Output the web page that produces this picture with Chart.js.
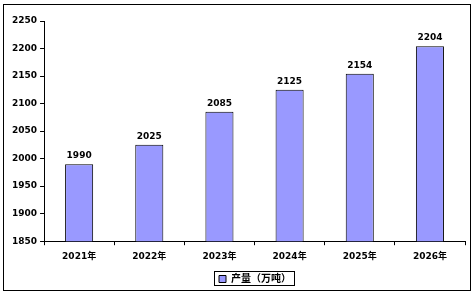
<!DOCTYPE html>
<html>
<head>
<meta charset="utf-8">
<script src="https://cdn.jsdelivr.net/npm/chart.js@4.4.1/dist/chart.umd.min.js"></script>
<style>
  html, body { margin: 0; padding: 0; background: #fff; }
  #wrap { width: 474px; height: 295px; position: relative; }
</style>
</head>
<body>
<div id="wrap"><canvas id="c"></canvas></div>
<script>
// data
const years = ['2021年', '2022年', '2023年', '2024年', '2025年', '2026年'];
const output = [1990, 2025, 2085, 2125, 2154, 2204];
const seriesName = '产量（万吨）';
const yMin = 1850, yMax = 2250, yStep = 50;

const FONT = '"DejaVu Sans", Verdana, "Noto Sans CJK SC", sans-serif';

// outer frame + legend frame + value labels
const extras = {
    id: 'extras',
    afterLayout(chart) {
        // centre the legend under the plot area rather than the canvas
        const lg = chart.legend;
        if (!lg) return;
        const dx = Math.round((chart.chartArea.left + chart.chartArea.right) / 2 - (lg.left + lg.right) / 2);
        lg.left += dx;
        lg.right += dx;
        (lg.legendHitBoxes || []).forEach(hb => { hb.left += dx; });
    },
    afterDatasetsDraw(chart) {
        const ctx = chart.ctx;
        const meta = chart.getDatasetMeta(0);
        ctx.save();
        ctx.fillStyle = '#000';
        ctx.font = 'bold 9px ' + FONT;
        ctx.textAlign = 'center';
        ctx.textBaseline = 'bottom';
        meta.data.forEach((bar, i) => {
            ctx.fillText(String(output[i]), bar.x, bar.y - 4);
        });
        ctx.restore();
    },
    afterDraw(chart) {
        const ctx = chart.ctx;
        ctx.save();
        ctx.strokeStyle = '#000';
        ctx.lineWidth = 1;
        ctx.strokeRect(3.5, 4.5, 467, 286);
        const lg = chart.legend;
        if (lg && lg.legendHitBoxes && lg.legendHitBoxes.length) {
            const hb = lg.legendHitBoxes[0];
            ctx.strokeRect(Math.round(hb.left) - 4.5, Math.round(hb.top) - 2.5,
                Math.round(hb.width) + 8, Math.round(hb.height) + 4);
        }
        ctx.restore();
    }
};

new Chart(document.getElementById('c'), {
    type: 'bar',
    data: {
        labels: years,
        datasets: [{
            label: seriesName,
            data: output,
            backgroundColor: '#9999FF',
            borderColor: '#000',
            borderWidth: 1,
            borderSkipped: false,
            categoryPercentage: 1,
            barPercentage: 0.4
        }]
    },
    options: {
        responsive: true,
        maintainAspectRatio: false,
        animation: false,
        devicePixelRatio: 1,
        layout: { padding: { left: 9, right: 9, top: 21, bottom: 1 } },
        plugins: {
            legend: {
                position: 'bottom',
                labels: {
                    color: '#000',
                    font: { family: FONT, size: 10, weight: 'bold' },
                    boxWidth: 7,
                    boxHeight: 7,
                    padding: 6
                }
            },
            tooltip: { enabled: false }
        },
        scales: {
            x: {
                border: { color: '#000', width: 1 },
                grid: { drawOnChartArea: false, drawTicks: true, tickLength: 4, color: '#000', offset: true },
                ticks: {
                    color: '#000',
                    padding: 6,
                    maxRotation: 0,
                    font: { family: FONT, size: 9, weight: 'bold' }
                }
            },
            y: {
                min: yMin,
                max: yMax,
                border: { color: '#000', width: 1 },
                grid: { drawOnChartArea: false, drawTicks: true, tickLength: 4, color: '#000' },
                ticks: {
                    stepSize: yStep,
                    color: '#000',
                    padding: 3,
                    callback: v => String(v),
                    font: { family: FONT, size: 9, weight: 'bold' }
                }
            }
        }
    },
    plugins: [extras]
});
</script>
</body>
</html>
